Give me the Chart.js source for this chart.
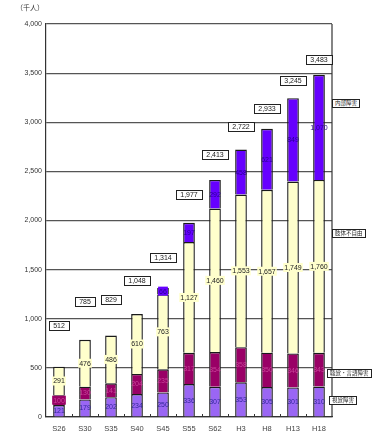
<!DOCTYPE html>
<html>
<head>
<meta charset="utf-8">
<script src="https://cdn.jsdelivr.net/npm/chart.js@4"></script>
<style>
html,body{margin:0;padding:0;background:#fff;}
#wrap{position:relative;width:380px;height:441px;}
#chart{position:absolute;left:0;top:0;}
.unit{position:absolute;left:16px;top:2px;font:7px "Noto Sans CJK JP";color:#333;}
.tag{position:absolute;border:1px solid #222;background:#fff;font:5.5px "Noto Sans CJK JP";line-height:7px;padding:0 2px;color:#222;white-space:nowrap;}
</style>
</head>
<body>
<div id="wrap">
<canvas id="chart" width="380" height="441"></canvas>
<div class="unit">（千人）</div>
<div class="tag" style="left:332px;top:99px;">内部障害</div>
<div class="tag" style="left:332px;top:229px;">肢体不自由</div>
<div class="tag" style="left:327px;top:369px;">聴覚・言語障害</div>
<div class="tag" style="left:329px;top:396px;">視覚障害</div>
</div>
<script>
/* ================= DATA ================= */

const years=["S26","S30","S35","S40","S45","S55","S62","H3","H8","H13","H18"];

const visual=[121,179,202,234,250,336,307,353,305,301,310];
const hearing=[100,130,141,204,235,317,354,358,350,346,343];
const limb=[291,476,486,610,763,1127,1460,1553,1657,1749,1760];
const internal=[0,0,0,0,66,197,292,458,621,849,1070];

const seriesNames=["視覚障害","聴覚・言語障害","肢体不自由","内部障害"];
const fillColors=["#9a66f4","#990066","#ffffcc","#6600ff"];
const labelColors=["#33289a","#c8449a","#222","#2a0090"];


/* ================= HELPERS ================= */

function fmt(v){
return v.toLocaleString("en-US");
}


/* ================= OVERLAY PLUGIN ================= */

const overlay={
id:"overlay",
afterDatasetsDraw(chart){

const ctx=chart.ctx;
const a=chart.chartArea;
const ys=chart.scales.y;

ctx.save();

// right frame line
ctx.strokeStyle="#333";
ctx.lineWidth=1.2;
ctx.beginPath();
ctx.moveTo(a.right,a.top);
ctx.lineTo(a.right,a.bottom);
ctx.stroke();

// small ticks between categories
const step=(a.right-a.left)/years.length;
ctx.lineWidth=1;
for(let i=1;i<years.length;i++){
const x=Math.round(a.left+step*i)+0.5;
ctx.beginPath();
ctx.moveTo(x,a.bottom);
ctx.lineTo(x,a.bottom-3);
ctx.stroke();
}

// segment labels
ctx.font="7px 'Liberation Sans'";
ctx.textAlign="center";
ctx.textBaseline="middle";

chart.data.datasets.forEach((ds,di)=>{
const meta=chart.getDatasetMeta(di);
meta.data.forEach((bar,i)=>{
const v=ds.data[i];
if(!v) return;
const cy=(bar.y+bar.base)/2;
const t=fmt(v);
const tw=ctx.measureText(t).width;
const h=Math.abs(bar.base-bar.y);
if(di===2||h<10){
ctx.fillStyle=fillColors[di];
ctx.fillRect(bar.x-tw/2-1,cy-4.5,tw+2,9);
}
ctx.fillStyle=labelColors[di];
ctx.fillText(t,bar.x,cy+0.5);
});
});

// total boxes
const meta0=chart.getDatasetMeta(0);
ctx.font="7px 'Liberation Sans'";
years.forEach((c,i)=>{
const total=visual[i]+hearing[i]+limb[i]+internal[i];
const x=meta0.data[i].x;
const cy=ys.getPixelForValue(total)-(41-2.6*i);
const t=fmt(total);
const tw=ctx.measureText(t).width;
const w=Math.max(tw+8,20);
ctx.fillStyle="#fff";
ctx.fillRect(x-w/2,cy-4.5,w,9);
ctx.strokeStyle="#222";
ctx.lineWidth=1;
ctx.strokeRect(Math.round(x-w/2)+0.5,Math.round(cy-4.5)+0.5,Math.round(w),9);
ctx.fillStyle="#222";
ctx.fillText(t,x,cy+0.5);
});

ctx.restore();
}
};


/* ================= CHART ================= */

const seriesData=[visual,hearing,limb,internal];

new Chart(document.getElementById("chart"),{
type:"bar",
data:{
labels:years,
datasets:seriesData.map((d,i)=>({
label:seriesNames[i],
data:d,
backgroundColor:fillColors[i],
borderColor:"#1a1a1a",
borderWidth:1.4,
barPercentage:0.45,
categoryPercentage:1
}))
},
options:{
responsive:false,
animation:false,
layout:{padding:{top:24,right:48,left:0,bottom:0}},
plugins:{legend:{display:false},tooltip:{enabled:false}},
scales:{
x:{
stacked:true,
grid:{display:false,drawTicks:false,tickLength:0},
border:{color:"#333",width:1.2},
ticks:{font:{size:7.5,family:"Liberation Sans"},color:"#444",padding:7},
afterFit(s){s.height=24;}
},
y:{
stacked:true,
min:0,
max:4000,
grid:{color:"#555",lineWidth:1.2,drawTicks:false},
border:{color:"#333",width:1.2},
ticks:{stepSize:500,font:{size:7,family:"Liberation Sans"},color:"#333",padding:4,
callback:v=>fmt(v)},
afterFit(s){s.width=46;}
}
}
},
plugins:[overlay]
});
</script>
</body>
</html>
